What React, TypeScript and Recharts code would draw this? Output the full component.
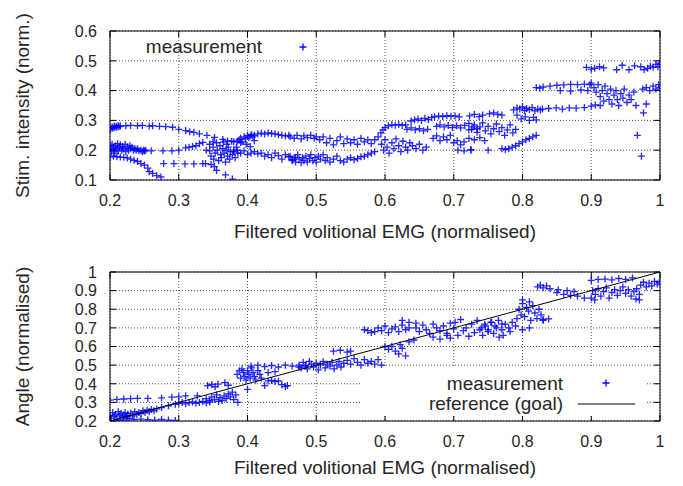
import React from 'react';
import { ScatterChart, Scatter, XAxis, YAxis, CartesianGrid, ReferenceArea } from 'recharts';

// ---------- axis ticks ----------
const xTicks = [0.2, 0.3, 0.4, 0.5, 0.6, 0.7, 0.8, 0.9, 1.0];
const xTickLabels = ['0.2', '0.3', '0.4', '0.5', '0.6', '0.7', '0.8', '0.9', '1'];
const stimTicks = [0.1, 0.2, 0.3, 0.4, 0.5, 0.6];
const stimTickLabels = ['0.1', '0.2', '0.3', '0.4', '0.5', '0.6'];
const angleTicks = [0.2, 0.3, 0.4, 0.5, 0.6, 0.7, 0.8, 0.9, 1.0];
const angleTickLabels = ['0.2', '0.3', '0.4', '0.5', '0.6', '0.7', '0.8', '0.9', '1'];

// ---------- top panel: stimulation intensity vs EMG ----------
const stimUpperArc = [
  [0.200, 0.272], [0.201, 0.270], [0.203, 0.278], [0.204, 0.274], [0.206, 0.281], [0.207, 0.276],
  [0.209, 0.280], [0.210, 0.277], [0.212, 0.282], [0.213, 0.279], [0.215, 0.281], [0.223, 0.282],
  [0.230, 0.283], [0.240, 0.282], [0.247, 0.283], [0.257, 0.281], [0.262, 0.282], [0.272, 0.280],
  [0.281, 0.279], [0.291, 0.277], [0.300, 0.270], [0.310, 0.266], [0.316, 0.262], [0.322, 0.260],
  [0.330, 0.255], [0.341, 0.250], [0.352, 0.243], [0.364, 0.236], [0.371, 0.231], [0.380, 0.228],
  [0.390, 0.225],
];
const stimLeftCluster = [
  [0.200, 0.215], [0.201, 0.205], [0.202, 0.195], [0.203, 0.220], [0.205, 0.210], [0.206, 0.200],
  [0.207, 0.190], [0.208, 0.215], [0.210, 0.205], [0.211, 0.222], [0.212, 0.197], [0.214, 0.210],
  [0.215, 0.218], [0.217, 0.200], [0.218, 0.212], [0.220, 0.205], [0.222, 0.220], [0.223, 0.195],
  [0.225, 0.210], [0.227, 0.200], [0.229, 0.215], [0.230, 0.205], [0.232, 0.210], [0.234, 0.200],
  [0.236, 0.205], [0.238, 0.200], [0.240, 0.205], [0.242, 0.198], [0.245, 0.200], [0.247, 0.195],
  [0.249, 0.200], [0.250, 0.197], [0.252, 0.200], [0.260, 0.198], [0.277, 0.198], [0.290, 0.198],
  [0.300, 0.200], [0.310, 0.208], [0.315, 0.210], [0.320, 0.212], [0.325, 0.215], [0.330, 0.222],
  [0.335, 0.226], [0.340, 0.200], [0.345, 0.198], [0.350, 0.228],
];
const stimFallingStrand = [
  [0.200, 0.178], [0.205, 0.180], [0.210, 0.178], [0.215, 0.177], [0.220, 0.176], [0.225, 0.174],
  [0.230, 0.170], [0.235, 0.166], [0.240, 0.162], [0.245, 0.155], [0.250, 0.150], [0.255, 0.140],
  [0.257, 0.128], [0.262, 0.122], [0.268, 0.115], [0.274, 0.110],
  [0.278, 0.155], [0.293, 0.155], [0.309, 0.154], [0.322, 0.154], [0.335, 0.155], [0.339, 0.155],
  [0.347, 0.152], [0.352, 0.145], [0.355, 0.132], [0.368, 0.117], [0.378, 0.103],
];
const stimCentreCluster = [
  [0.345, 0.220], [0.347, 0.180], [0.350, 0.210], [0.351, 0.170], [0.353, 0.190], [0.355, 0.225],
  [0.356, 0.200], [0.358, 0.165], [0.360, 0.215], [0.361, 0.185], [0.362, 0.175], [0.364, 0.205],
  [0.365, 0.228], [0.366, 0.190], [0.368, 0.160], [0.369, 0.200], [0.370, 0.220], [0.371, 0.180],
  [0.372, 0.210], [0.374, 0.170], [0.375, 0.195], [0.377, 0.230], [0.378, 0.185], [0.380, 0.200],
  [0.382, 0.175], [0.384, 0.210], [0.386, 0.190],
  [0.385, 0.230], [0.388, 0.235], [0.390, 0.240], [0.392, 0.228], [0.395, 0.245], [0.397, 0.238],
  [0.400, 0.250], [0.402, 0.242], [0.404, 0.248], [0.406, 0.252], [0.408, 0.245], [0.410, 0.250],
  [0.415, 0.255], [0.420, 0.257], [0.425, 0.254], [0.430, 0.258], [0.435, 0.256], [0.440, 0.255],
  [0.445, 0.252], [0.450, 0.250], [0.455, 0.248], [0.460, 0.250],
  [0.380, 0.195], [0.385, 0.200], [0.390, 0.190], [0.395, 0.198], [0.400, 0.185], [0.405, 0.190],
  [0.410, 0.195], [0.415, 0.188], [0.420, 0.190], [0.425, 0.180], [0.430, 0.185], [0.435, 0.175],
  [0.440, 0.190], [0.445, 0.182], [0.450, 0.170], [0.455, 0.185], [0.460, 0.178], [0.465, 0.168],
  [0.470, 0.175], [0.398, 0.220], [0.404, 0.212], [0.410, 0.232],
];
const stimMidBands = [
  [0.462, 0.245], [0.468, 0.240], [0.472, 0.250], [0.478, 0.238], [0.482, 0.248], [0.487, 0.242],
  [0.492, 0.250], [0.497, 0.240], [0.500, 0.245],
  [0.462, 0.180], [0.465, 0.165], [0.468, 0.175], [0.470, 0.160], [0.473, 0.185], [0.475, 0.170],
  [0.478, 0.158], [0.480, 0.175], [0.482, 0.165], [0.485, 0.180], [0.487, 0.160], [0.490, 0.172],
  [0.492, 0.185], [0.495, 0.165], [0.498, 0.175], [0.500, 0.160], [0.503, 0.180], [0.506, 0.170],
  [0.510, 0.185], [0.513, 0.165], [0.516, 0.175], [0.520, 0.160], [0.525, 0.170], [0.530, 0.180],
  [0.535, 0.165], [0.540, 0.160],
  [0.505, 0.235], [0.510, 0.245], [0.515, 0.225], [0.520, 0.240], [0.525, 0.218], [0.530, 0.232],
  [0.535, 0.245], [0.540, 0.222], [0.545, 0.238], [0.550, 0.225], [0.555, 0.235], [0.560, 0.220],
  [0.565, 0.240], [0.570, 0.228], [0.575, 0.235], [0.580, 0.222],
  [0.545, 0.170], [0.550, 0.175], [0.555, 0.168], [0.560, 0.172], [0.565, 0.178], [0.570, 0.180],
  [0.575, 0.185], [0.580, 0.190], [0.585, 0.195],
];
const stimRisingBands = [
  [0.585, 0.235], [0.590, 0.245], [0.594, 0.258], [0.597, 0.268], [0.600, 0.276], [0.605, 0.282],
  [0.610, 0.285], [0.615, 0.284], [0.620, 0.286], [0.625, 0.283], [0.630, 0.285],
  [0.595, 0.220], [0.598, 0.200], [0.600, 0.235], [0.603, 0.210], [0.606, 0.190], [0.610, 0.225],
  [0.613, 0.205], [0.616, 0.238], [0.620, 0.215], [0.623, 0.195], [0.626, 0.230], [0.630, 0.210],
  [0.633, 0.200], [0.636, 0.225],
  [0.638, 0.298], [0.643, 0.302], [0.648, 0.305], [0.653, 0.300], [0.658, 0.307], [0.663, 0.303],
  [0.668, 0.310], [0.672, 0.312], [0.678, 0.315], [0.684, 0.313], [0.690, 0.316], [0.696, 0.314],
  [0.702, 0.315], [0.708, 0.312],
  [0.632, 0.270], [0.638, 0.275], [0.644, 0.268], [0.650, 0.272], [0.656, 0.265], [0.662, 0.270],
  [0.675, 0.280], [0.680, 0.285], [0.686, 0.278], [0.692, 0.283], [0.698, 0.276], [0.704, 0.282],
  [0.640, 0.215], [0.645, 0.205], [0.650, 0.220], [0.655, 0.200], [0.660, 0.210],
  [0.670, 0.240], [0.675, 0.248], [0.680, 0.232], [0.685, 0.245], [0.690, 0.235], [0.695, 0.250],
  [0.700, 0.225], [0.705, 0.232], [0.710, 0.218], [0.715, 0.228],
  [0.706, 0.200], [0.715, 0.198], [0.725, 0.202],
  [0.710, 0.275], [0.716, 0.283], [0.722, 0.268], [0.728, 0.278], [0.734, 0.272],
];
const stimHighBands = [
  [0.723, 0.315], [0.730, 0.320], [0.737, 0.313], [0.742, 0.318], [0.752, 0.322], [0.758, 0.325],
  [0.764, 0.320], [0.770, 0.318],
  [0.722, 0.290], [0.726, 0.270], [0.730, 0.285], [0.734, 0.260], [0.738, 0.278], [0.742, 0.292],
  [0.746, 0.265], [0.750, 0.280], [0.754, 0.255], [0.758, 0.272], [0.762, 0.288], [0.766, 0.262],
  [0.770, 0.276], [0.774, 0.250], [0.778, 0.268], [0.782, 0.285], [0.786, 0.258], [0.790, 0.270],
  [0.722, 0.240], [0.730, 0.235], [0.738, 0.242], [0.745, 0.232],
  [0.725, 0.200], [0.750, 0.200], [0.770, 0.205], [0.775, 0.202], [0.780, 0.205],
  [0.785, 0.210], [0.790, 0.215], [0.795, 0.222], [0.800, 0.228], [0.805, 0.235], [0.810, 0.240],
  [0.815, 0.245], [0.820, 0.250],
  [0.787, 0.335], [0.792, 0.342], [0.796, 0.338], [0.800, 0.345], [0.803, 0.333], [0.806, 0.340],
  [0.810, 0.336], [0.814, 0.343], [0.818, 0.332], [0.822, 0.338], [0.826, 0.335],
  [0.792, 0.318], [0.798, 0.305], [0.804, 0.312], [0.810, 0.300], [0.816, 0.310], [0.820, 0.302],
  [0.829, 0.338], [0.838, 0.340], [0.849, 0.342], [0.858, 0.338], [0.868, 0.342], [0.878, 0.341],
  [0.890, 0.343], [0.900, 0.348], [0.906, 0.352], [0.913, 0.350],
  [0.820, 0.410], [0.825, 0.408], [0.830, 0.412], [0.840, 0.415], [0.850, 0.418], [0.860, 0.419],
  [0.870, 0.421], [0.880, 0.420], [0.890, 0.422], [0.898, 0.420],
  [0.855, 0.400], [0.870, 0.398], [0.885, 0.402], [0.895, 0.400],
  [0.893, 0.478], [0.900, 0.472], [0.905, 0.475], [0.912, 0.480], [0.918, 0.476],
  [0.937, 0.470], [0.945, 0.485], [0.955, 0.470], [0.963, 0.483],
  [0.972, 0.480], [0.977, 0.470], [0.982, 0.475], [0.986, 0.482], [0.990, 0.478], [0.994, 0.488],
  [0.997, 0.480], [0.999, 0.492],
  [0.900, 0.425], [0.904, 0.410], [0.907, 0.395], [0.910, 0.420], [0.913, 0.380], [0.916, 0.400],
  [0.918, 0.365], [0.920, 0.415], [0.923, 0.390], [0.926, 0.370], [0.928, 0.405], [0.930, 0.355],
  [0.933, 0.385], [0.936, 0.400], [0.938, 0.370], [0.940, 0.350], [0.943, 0.390], [0.946, 0.375],
  [0.948, 0.405], [0.952, 0.360], [0.955, 0.385], [0.958, 0.370], [0.962, 0.395], [0.965, 0.350],
  [0.975, 0.405], [0.980, 0.410], [0.985, 0.400], [0.990, 0.415], [0.994, 0.405], [0.998, 0.420],
  [1.000, 0.410],
  [0.976, 0.325], [0.967, 0.250], [0.973, 0.180], [0.980, 0.355],
];

// ---------- bottom panel: angle vs EMG ----------
const angleLowLeft = [
  [0.200, 0.312], [0.210, 0.316], [0.220, 0.318], [0.230, 0.320], [0.240, 0.322], [0.255, 0.322],
  [0.275, 0.324], [0.290, 0.328], [0.300, 0.330], [0.310, 0.335], [0.327, 0.335],
  [0.200, 0.230], [0.202, 0.215], [0.204, 0.245], [0.206, 0.225], [0.208, 0.235], [0.210, 0.210],
  [0.212, 0.250], [0.214, 0.228], [0.216, 0.240], [0.218, 0.220], [0.220, 0.232], [0.222, 0.245],
  [0.224, 0.225], [0.226, 0.238], [0.228, 0.215], [0.230, 0.242], [0.233, 0.228], [0.236, 0.250],
  [0.239, 0.235], [0.242, 0.245], [0.245, 0.240], [0.248, 0.255], [0.251, 0.245], [0.254, 0.258],
  [0.257, 0.250], [0.260, 0.262], [0.264, 0.255], [0.268, 0.265],
  [0.212, 0.198], [0.215, 0.205], [0.220, 0.200], [0.225, 0.212], [0.235, 0.208], [0.245, 0.210],
  [0.255, 0.207], [0.265, 0.205], [0.275, 0.208], [0.285, 0.205], [0.295, 0.203],
  [0.275, 0.272], [0.285, 0.282], [0.295, 0.290],
];
const angleLowMid = [
  [0.300, 0.295], [0.305, 0.300], [0.310, 0.292], [0.315, 0.298], [0.320, 0.302], [0.325, 0.295],
  [0.330, 0.300], [0.335, 0.305], [0.340, 0.298], [0.345, 0.302],
  [0.340, 0.320], [0.345, 0.310], [0.348, 0.330], [0.352, 0.315], [0.355, 0.340], [0.358, 0.305],
  [0.360, 0.325], [0.363, 0.310], [0.366, 0.335], [0.369, 0.320], [0.372, 0.345], [0.375, 0.330],
  [0.378, 0.355], [0.380, 0.315], [0.383, 0.340], [0.386, 0.300],
  [0.342, 0.390], [0.348, 0.396], [0.353, 0.384], [0.357, 0.398], [0.367, 0.406], [0.372, 0.392],
  [0.385, 0.450], [0.388, 0.470], [0.390, 0.430], [0.392, 0.480], [0.394, 0.460], [0.396, 0.440],
  [0.398, 0.420], [0.400, 0.470], [0.402, 0.450], [0.404, 0.430], [0.406, 0.485], [0.408, 0.460],
  [0.410, 0.440], [0.412, 0.420], [0.415, 0.470], [0.418, 0.450], [0.420, 0.430],
  [0.400, 0.370], [0.425, 0.390], [0.430, 0.415], [0.435, 0.418], [0.440, 0.412], [0.445, 0.415],
  [0.450, 0.395], [0.455, 0.385], [0.458, 0.390], [0.430, 0.460], [0.440, 0.465],
  [0.405, 0.495], [0.415, 0.500], [0.425, 0.492], [0.435, 0.498], [0.445, 0.490], [0.455, 0.500],
  [0.465, 0.495], [0.475, 0.490], [0.485, 0.500],
];
const angleMiddle = [
  [0.475, 0.500], [0.478, 0.485], [0.481, 0.515], [0.484, 0.495], [0.487, 0.480], [0.490, 0.520],
  [0.493, 0.505], [0.496, 0.490], [0.500, 0.510], [0.503, 0.475], [0.506, 0.500], [0.510, 0.520],
  [0.513, 0.485], [0.516, 0.505], [0.520, 0.495], [0.523, 0.515], [0.526, 0.480], [0.530, 0.500],
  [0.533, 0.520], [0.536, 0.490],
  [0.525, 0.575], [0.535, 0.580], [0.545, 0.570], [0.550, 0.575],
  [0.540, 0.510], [0.545, 0.525], [0.550, 0.505], [0.555, 0.535], [0.560, 0.515], [0.565, 0.500],
  [0.570, 0.530], [0.575, 0.510], [0.580, 0.520], [0.585, 0.505], [0.590, 0.530], [0.595, 0.500],
  [0.570, 0.690], [0.575, 0.685], [0.580, 0.675],
  [0.585, 0.680], [0.590, 0.700], [0.595, 0.685], [0.600, 0.710], [0.605, 0.675], [0.610, 0.695],
  [0.615, 0.705], [0.620, 0.680], [0.625, 0.715], [0.630, 0.690], [0.635, 0.700],
  [0.600, 0.600], [0.605, 0.585], [0.610, 0.600], [0.615, 0.575], [0.620, 0.560], [0.625, 0.590],
  [0.630, 0.550], [0.622, 0.610], [0.635, 0.625], [0.642, 0.635],
  [0.625, 0.740], [0.635, 0.730], [0.645, 0.725],
  [0.645, 0.700], [0.650, 0.680], [0.655, 0.715], [0.660, 0.690], [0.665, 0.670], [0.670, 0.720],
  [0.675, 0.700], [0.680, 0.685], [0.685, 0.710], [0.690, 0.670], [0.695, 0.725], [0.700, 0.695],
  [0.670, 0.650], [0.680, 0.640], [0.690, 0.660], [0.695, 0.645],
];
const angleHigh = [
  [0.702, 0.730], [0.706, 0.660], [0.710, 0.745], [0.714, 0.685], [0.718, 0.700], [0.722, 0.655],
  [0.726, 0.720], [0.730, 0.675], [0.734, 0.740], [0.738, 0.690], [0.742, 0.660], [0.746, 0.710],
  [0.750, 0.680], [0.754, 0.730], [0.758, 0.670], [0.762, 0.700], [0.766, 0.650], [0.770, 0.720],
  [0.740, 0.700], [0.745, 0.720], [0.750, 0.690], [0.755, 0.730], [0.760, 0.710], [0.765, 0.740],
  [0.770, 0.690], [0.775, 0.720], [0.780, 0.700], [0.785, 0.730], [0.790, 0.710], [0.772, 0.660],
  [0.782, 0.680], [0.800, 0.690], [0.810, 0.700], [0.830, 0.745], [0.838, 0.748],
  [0.792, 0.750], [0.795, 0.800], [0.798, 0.770], [0.800, 0.830], [0.803, 0.760], [0.806, 0.810],
  [0.809, 0.790], [0.812, 0.740], [0.815, 0.820], [0.818, 0.780], [0.821, 0.750], [0.824, 0.800],
  [0.827, 0.770], [0.830, 0.740], [0.800, 0.850], [0.810, 0.840],
  [0.822, 0.920], [0.830, 0.915], [0.840, 0.910], [0.852, 0.905], [0.865, 0.900], [0.875, 0.895],
  [0.826, 0.930], [0.835, 0.925],
  [0.850, 0.890], [0.860, 0.880], [0.870, 0.875], [0.880, 0.870], [0.890, 0.860], [0.900, 0.860],
  [0.900, 0.955], [0.910, 0.960], [0.920, 0.962], [0.930, 0.958], [0.940, 0.965], [0.950, 0.960],
  [0.960, 0.968],
  [0.902, 0.900], [0.906, 0.880], [0.910, 0.910], [0.914, 0.870], [0.918, 0.895], [0.922, 0.915],
  [0.926, 0.860], [0.930, 0.890], [0.934, 0.905], [0.938, 0.875], [0.942, 0.900], [0.946, 0.920],
  [0.950, 0.885], [0.954, 0.905], [0.958, 0.870], [0.962, 0.895], [0.966, 0.910], [0.970, 0.880],
  [0.972, 0.930], [0.976, 0.945], [0.980, 0.920], [0.984, 0.940], [0.988, 0.925], [0.992, 0.950],
  [0.996, 0.935], [0.999, 0.945],
  [0.965, 0.855], [0.970, 0.850], [0.905, 0.850],
];
const referenceX = [0.2, 1.0];
const referenceY = [0.2, 1.0];

const toPoints = (pairs: number[][]) => pairs.map(([x, y]) => ({ x, y }));
const stimData = toPoints([
  ...stimUpperArc, ...stimLeftCluster, ...stimFallingStrand, ...stimCentreCluster,
  ...stimMidBands, ...stimRisingBands, ...stimHighBands,
]);
const angleData = toPoints([...angleLowLeft, ...angleLowMid, ...angleMiddle, ...angleHigh]);
const referenceData = referenceX.map((x, i) => ({ x, y: referenceY[i] }));

// ---------- styling ----------
const FONT = '"Liberation Sans", Arial, Helvetica, sans-serif';
const FS = 19;
const TICK_FS = 16;
const TEXT = '#262626';
const BLUE = '#0000ff';
const PLOT_W = 550;
const PLOT_H = 149;
const TICK = 6;

const labelFor = (ticks: number[], labels: string[], v: number) => {
  const i = ticks.findIndex((t) => Math.abs(t - v) < 1e-9);
  return i >= 0 ? labels[i] : String(v);
};

const makeXTick = (ticks: number[], labels: string[]) => (props: any) => {
  const { x, y, payload } = props;
  return (
    <g>
      <line x1={x} x2={x} y1={y} y2={y - TICK} stroke="#000" strokeWidth={1} />
      <line x1={x} x2={x} y1={y - PLOT_H} y2={y - PLOT_H + TICK} stroke="#000" strokeWidth={1} />
      <text x={x} y={y + 25.5} textAnchor="middle" fontFamily={FONT} fontSize={TICK_FS} fill={TEXT}>
        {labelFor(ticks, labels, payload.value)}
      </text>
    </g>
  );
};

const makeYTick = (ticks: number[], labels: string[]) => (props: any) => {
  const { x, y, payload } = props;
  return (
    <g>
      <line x1={x} x2={x + TICK} y1={y} y2={y} stroke="#000" strokeWidth={1} />
      <line x1={x + PLOT_W - TICK} x2={x + PLOT_W} y1={y} y2={y} stroke="#000" strokeWidth={1} />
      <text x={x - 13} y={y + 5.8} textAnchor="end" fontFamily={FONT} fontSize={TICK_FS} fill={TEXT}>
        {labelFor(ticks, labels, payload.value)}
      </text>
    </g>
  );
};

const PlusMarker = (props: any) => {
  const { cx, cy } = props;
  if (cx == null || cy == null) return <g />;
  return (
    <path
      d={`M${cx - 3.5},${cy}h7M${cx},${cy - 3.5}v7`}
      stroke={BLUE}
      strokeWidth={1.3}
      strokeOpacity={0.85}
      fill="none"
    />
  );
};
const NoMarker = () => <g />;

const XTickComp = makeXTick(xTicks, xTickLabels);
const StimTickComp = makeYTick(stimTicks, stimTickLabels);
const AngleTickComp = makeYTick(angleTicks, angleTickLabels);

function Panel(props: {
  data: { x: number; y: number }[];
  yDomain: [number, number];
  yTicks: number[];
  yTick: any;
  reference?: { x: number; y: number }[];
}) {
  const { data, yDomain, yTicks, yTick, reference } = props;
  return (
    <ScatterChart width={683} height={243} margin={{ top: 31, right: 23, bottom: 0, left: 0 }}>
      <CartesianGrid stroke="#555" strokeDasharray="1 2" />
      <XAxis
        type="number"
        dataKey="x"
        domain={[0.2, 1]}
        ticks={xTicks}
        interval={0}
        axisLine={false}
        tickLine={false}
        tickSize={0}
        tickMargin={0}
        height={63}
        tick={XTickComp}
        allowDataOverflow
      />
      <YAxis
        type="number"
        dataKey="y"
        domain={yDomain}
        ticks={yTicks}
        interval={0}
        axisLine={false}
        tickLine={false}
        tickSize={0}
        tickMargin={0}
        width={110}
        tick={yTick}
        allowDataOverflow
      />
      <ReferenceArea
        x1={0.2}
        x2={1}
        y1={yDomain[0]}
        y2={yDomain[1]}
        fill="none"
        fillOpacity={0}
        stroke="#000"
        strokeWidth={1}
      />
      <Scatter data={data} shape={PlusMarker} isAnimationActive={false} />
      {reference && (
        <Scatter
          data={reference}
          line={{ stroke: '#000', strokeWidth: 1 }}
          lineType="joint"
          shape={NoMarker}
          isAnimationActive={false}
        />
      )}
    </ScatterChart>
  );
}

export default function App() {
  return (
    <div style={{ position: 'absolute', left: 0, top: 0, width: 683, height: 486, background: '#fff' }}>
      <div style={{ position: 'absolute', left: 0, top: 0 }}>
        <Panel data={stimData} yDomain={[0.1, 0.6]} yTicks={stimTicks} yTick={StimTickComp} />
      </div>
      <div style={{ position: 'absolute', left: 0, top: 241 }}>
        <Panel
          data={angleData}
          yDomain={[0.2, 1]}
          yTicks={angleTicks}
          yTick={AngleTickComp}
          reference={referenceData}
        />
      </div>
      <svg
        width={683}
        height={486}
        style={{ position: 'absolute', left: 0, top: 0, pointerEvents: 'none' }}
      >
        <g fontFamily={FONT} fontSize={FS} fill={TEXT}>
          <text transform="translate(29,105.5) rotate(-90)" textAnchor="middle">
            Stim. intensity (norm.)
          </text>
          <text transform="translate(29,346.5) rotate(-90)" textAnchor="middle">
            Angle (normalised)
          </text>
          <text x={385} y={237.5} textAnchor="middle">Filtered volitional EMG (normalised)</text>
          <text x={385} y={473.5} textAnchor="middle">Filtered volitional EMG (normalised)</text>
          <text x={262} y={52.5} textAnchor="end">measurement</text>
        </g>
        <path d="M299.5,47h7M303,43.5v7" stroke={BLUE} strokeWidth={1.3} />
        <rect x={362} y={368} width={285} height={48} fill="#fff" />
        <g fontFamily={FONT} fontSize={FS} fill={TEXT}>
          <text x={563} y={389.5} textAnchor="end">measurement</text>
          <text x={563} y={410} textAnchor="end">reference (goal)</text>
        </g>
        <path d="M602.5,383h7M606,379.5v7" stroke={BLUE} strokeWidth={1.3} />
        <line x1={578} x2={635} y1={404} y2={404} stroke="#000" strokeWidth={1} />
      </svg>
    </div>
  );
}
